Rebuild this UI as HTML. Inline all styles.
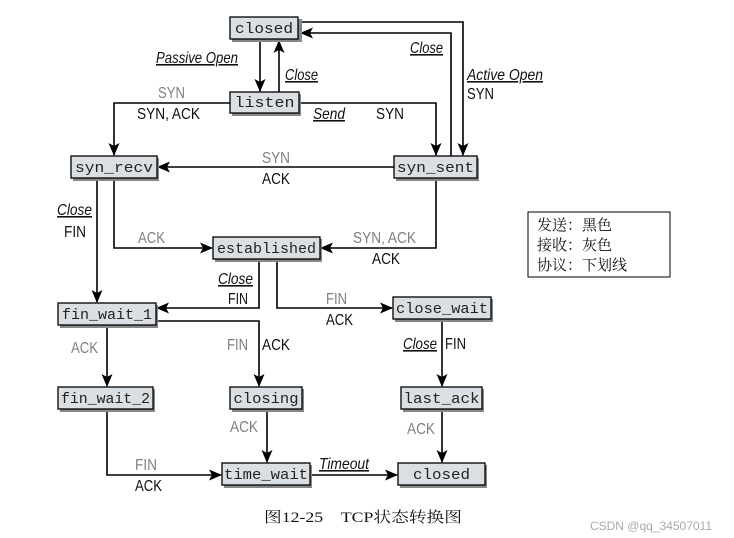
<!DOCTYPE html>
<html><head><meta charset="utf-8"><style>
html,body{margin:0;padding:0;background:#fff;width:734px;height:538px;overflow:hidden}
svg{display:block}
.m{font-family:"Liberation Mono",monospace;font-size:15px;fill:#222}
.l{font-family:"Liberation Sans",sans-serif;font-size:16px;fill:#111}
.g{fill:#808080}
.u{font-style:italic;text-decoration:underline}
.c{font-family:"Liberation Serif","Noto Serif CJK SC",serif;font-size:15px;fill:#111}
</style></head><body>
<svg width="734" height="538" viewBox="0 0 734 538" xmlns="http://www.w3.org/2000/svg">
<defs><marker id="a" markerWidth="13" markerHeight="11" refX="12" refY="5.5" orient="auto" markerUnits="userSpaceOnUse"><path d="M0,0 L13,5.5 L0,11 L3,5.5 Z" fill="#000"/></marker></defs>
<g fill="none" stroke="#000" stroke-width="1.6">
<path d="M260,40 V91" marker-end="url(#a)"/>
<path d="M279,92 V41" marker-end="url(#a)"/>
<path d="M300,22 H463 V155" marker-end="url(#a)"/>
<path d="M451,156 V33 H301" marker-end="url(#a)"/>
<path d="M230,103 H114 V155" marker-end="url(#a)"/>
<path d="M299,103 H436 V155" marker-end="url(#a)"/>
<path d="M394,167 H158" marker-end="url(#a)"/>
<path d="M97,178 V302" marker-end="url(#a)"/>
<path d="M114,178 V248 H212" marker-end="url(#a)"/>
<path d="M436,178 V248 H321" marker-end="url(#a)"/>
<path d="M259,259 V308 H157" marker-end="url(#a)"/>
<path d="M277,259 V308 H392" marker-end="url(#a)"/>
<path d="M156,321 H259 V386" marker-end="url(#a)"/>
<path d="M107,325 V386" marker-end="url(#a)"/>
<path d="M442,319 V386" marker-end="url(#a)"/>
<path d="M107,409 V475 H221" marker-end="url(#a)"/>
<path d="M267,409 V462" marker-end="url(#a)"/>
<path d="M442,409 V462" marker-end="url(#a)"/>
<path d="M310,475 H397" marker-end="url(#a)"/>
</g>
<g>
<g transform="translate(230,17)"><rect x="2" y="2" width="70" height="23" fill="#888"/><rect width="68" height="22" fill="#d9dfe3" stroke="#000" stroke-width="1.3"/><text class="m" x="34" y="16" text-anchor="middle" textLength="58" lengthAdjust="spacingAndGlyphs">closed</text></g>
<g transform="translate(230,92)"><rect x="2" y="2" width="69" height="22" fill="#888"/><rect width="69" height="21" fill="#d9dfe3" stroke="#000" stroke-width="1.3"/><text class="m" x="34.5" y="15" text-anchor="middle" textLength="60" lengthAdjust="spacingAndGlyphs">listen</text></g>
<g transform="translate(71,156)"><rect x="2" y="2" width="86" height="23" fill="#888"/><rect width="86" height="22" fill="#d9dfe3" stroke="#000" stroke-width="1.3"/><text class="m" x="43" y="16" text-anchor="middle" textLength="78" lengthAdjust="spacingAndGlyphs">syn_recv</text></g>
<g transform="translate(394,156)"><rect x="2" y="2" width="83" height="23" fill="#888"/><rect width="83" height="22" fill="#d9dfe3" stroke="#000" stroke-width="1.3"/><text class="m" x="41.5" y="16" text-anchor="middle" textLength="77" lengthAdjust="spacingAndGlyphs">syn_sent</text></g>
<g transform="translate(213,237)"><rect x="2" y="2" width="107" height="23" fill="#888"/><rect width="107" height="22" fill="#d9dfe3" stroke="#000" stroke-width="1.3"/><text class="m" x="53.5" y="16" text-anchor="middle" textLength="99" lengthAdjust="spacingAndGlyphs">established</text></g>
<g transform="translate(58,303)"><rect x="2" y="2" width="98" height="23" fill="#888"/><rect width="98" height="22" fill="#d9dfe3" stroke="#000" stroke-width="1.3"/><text class="m" x="49" y="16" text-anchor="middle" textLength="90" lengthAdjust="spacingAndGlyphs">fin_wait_1</text></g>
<g transform="translate(393,297)"><rect x="2" y="2" width="98" height="23" fill="#888"/><rect width="98" height="22" fill="#d9dfe3" stroke="#000" stroke-width="1.3"/><text class="m" x="49" y="16" text-anchor="middle" textLength="92" lengthAdjust="spacingAndGlyphs">close_wait</text></g>
<g transform="translate(58,387)"><rect x="2" y="2" width="95" height="23" fill="#888"/><rect width="95" height="22" fill="#d9dfe3" stroke="#000" stroke-width="1.3"/><text class="m" x="47.5" y="16" text-anchor="middle" textLength="89" lengthAdjust="spacingAndGlyphs">fin_wait_2</text></g>
<g transform="translate(230,387)"><rect x="2" y="2" width="72" height="23" fill="#888"/><rect width="72" height="22" fill="#d9dfe3" stroke="#000" stroke-width="1.3"/><text class="m" x="36" y="16" text-anchor="middle" textLength="65" lengthAdjust="spacingAndGlyphs">closing</text></g>
<g transform="translate(401,387)"><rect x="2" y="2" width="81" height="23" fill="#888"/><rect width="81" height="22" fill="#d9dfe3" stroke="#000" stroke-width="1.3"/><text class="m" x="40.5" y="16" text-anchor="middle" textLength="76" lengthAdjust="spacingAndGlyphs">last_ack</text></g>
<g transform="translate(222,463)"><rect x="2" y="2" width="88" height="23" fill="#888"/><rect width="88" height="22" fill="#d9dfe3" stroke="#000" stroke-width="1.3"/><text class="m" x="44" y="16" text-anchor="middle" textLength="84" lengthAdjust="spacingAndGlyphs">time_wait</text></g>
<g transform="translate(398,463)"><rect x="2" y="2" width="87" height="23" fill="#888"/><rect width="87" height="22" fill="#d9dfe3" stroke="#000" stroke-width="1.3"/><text class="m" x="43.5" y="16" text-anchor="middle" textLength="57" lengthAdjust="spacingAndGlyphs">closed</text></g>
</g>
<g>
<text class="l u" x="156" y="63" textLength="82" lengthAdjust="spacingAndGlyphs">Passive Open</text>
<text class="l u" x="285" y="80" textLength="33" lengthAdjust="spacingAndGlyphs">Close</text>
<text class="l g" x="158" y="98" textLength="27" lengthAdjust="spacingAndGlyphs">SYN</text>
<text class="l" x="137" y="119" textLength="63" lengthAdjust="spacingAndGlyphs">SYN, ACK</text>
<text class="l u" x="313" y="119" textLength="32" lengthAdjust="spacingAndGlyphs">Send</text>
<text class="l" x="376" y="119" textLength="28" lengthAdjust="spacingAndGlyphs">SYN</text>
<text class="l u" x="410" y="53" textLength="33" lengthAdjust="spacingAndGlyphs">Close</text>
<text class="l u" x="467" y="80" textLength="76" lengthAdjust="spacingAndGlyphs">Active Open</text>
<text class="l" x="467" y="99" textLength="27" lengthAdjust="spacingAndGlyphs">SYN</text>
<text class="l g" x="262" y="163" textLength="28" lengthAdjust="spacingAndGlyphs">SYN</text>
<text class="l" x="262" y="184" textLength="28" lengthAdjust="spacingAndGlyphs">ACK</text>
<text class="l u" x="57" y="215" textLength="35" lengthAdjust="spacingAndGlyphs">Close</text>
<text class="l" x="64" y="237" textLength="22" lengthAdjust="spacingAndGlyphs">FIN</text>
<text class="l g" x="138" y="243" textLength="27" lengthAdjust="spacingAndGlyphs">ACK</text>
<text class="l g" x="353" y="243" textLength="63" lengthAdjust="spacingAndGlyphs">SYN, ACK</text>
<text class="l" x="372" y="264" textLength="28" lengthAdjust="spacingAndGlyphs">ACK</text>
<text class="l u" x="218" y="284" textLength="35" lengthAdjust="spacingAndGlyphs">Close</text>
<text class="l" x="228" y="304" textLength="20" lengthAdjust="spacingAndGlyphs">FIN</text>
<text class="l g" x="326" y="304" textLength="21" lengthAdjust="spacingAndGlyphs">FIN</text>
<text class="l" x="326" y="325" textLength="27" lengthAdjust="spacingAndGlyphs">ACK</text>
<text class="l g" x="71" y="353" textLength="27" lengthAdjust="spacingAndGlyphs">ACK</text>
<text class="l g" x="227" y="350" textLength="21" lengthAdjust="spacingAndGlyphs">FIN</text>
<text class="l" x="262" y="350" textLength="28" lengthAdjust="spacingAndGlyphs">ACK</text>
<text class="l u" x="403" y="349" textLength="34" lengthAdjust="spacingAndGlyphs">Close</text>
<text class="l" x="445" y="349" textLength="21" lengthAdjust="spacingAndGlyphs">FIN</text>
<text class="l g" x="230" y="432" textLength="28" lengthAdjust="spacingAndGlyphs">ACK</text>
<text class="l g" x="407" y="434" textLength="28" lengthAdjust="spacingAndGlyphs">ACK</text>
<text class="l g" x="135" y="470" textLength="22" lengthAdjust="spacingAndGlyphs">FIN</text>
<text class="l" x="135" y="491" textLength="27" lengthAdjust="spacingAndGlyphs">ACK</text>
<text class="l u" x="319" y="469" textLength="50" lengthAdjust="spacingAndGlyphs">Timeout</text>
</g>
<rect x="528" y="212" width="142" height="65" fill="none" stroke="#000" stroke-width="1"/>
<text class="c" x="537" y="230">发送：黑色</text>
<text class="c" x="537" y="250">接收：灰色</text>
<text class="c" x="537" y="270">协议：下划线</text>
<text class="c" x="264" y="522" font-size="18" textLength="198" lengthAdjust="spacingAndGlyphs">图12-25　TCP状态转换图</text>
<text x="712" y="530" text-anchor="end" font-family="Liberation Sans, sans-serif" font-size="12" fill="#aaa">CSDN @qq_34507011</text>
</svg>
</body></html>
